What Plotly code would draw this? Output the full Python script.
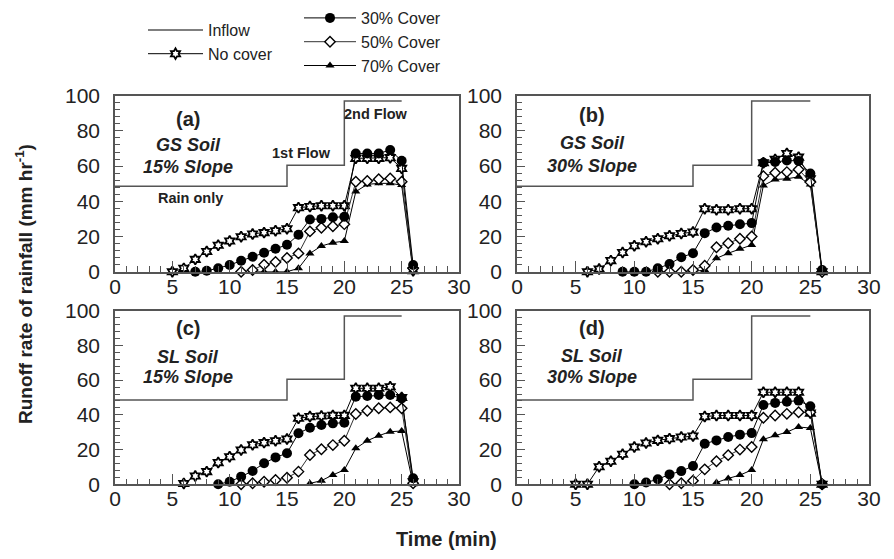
import plotly.graph_objects as go
from plotly.subplots import make_subplots

# ---------------- data ----------------
inflow_t = [0, 15, 20, 25]
inflow_y = [48.5, 60.5, 97, 97]

# panel (a) GS soil 15% slope
a_nc_t = list(range(5, 27))
a_nc = [0, 1.9, 7, 11.5, 15, 17.4, 19.9, 21.4, 22.2, 23.3, 24.4, 36.4, 37, 37.5, 37.5, 37.5, 64.4, 64.4, 64.4, 64.8, 58.7, 0.5]
a_30_t = list(range(7, 27))
a_30 = [0, 0.5, 2, 3.8, 6.2, 8.5, 10.8, 13, 15.3, 21, 29.7, 30, 30.9, 31.2, 67.2, 67.2, 67.2, 69.1, 63, 3.8]
a_50_t = list(range(11, 27))
a_50 = [0, 1, 4, 5.5, 7.8, 10.4, 22.9, 25, 25.8, 27, 51.1, 51.5, 52.5, 53, 51.1, 1.9]
a_70_t = list(range(12, 27))
a_70 = [0, 0, 0, 0, 1.9, 10.4, 14.6, 16.5, 17.4, 45.5, 49.6, 50.2, 50.2, 49.2, 0]

# panel (b) GS soil 30% slope
b_nc_t = list(range(6, 27))
b_nc = [0, 1.5, 6.3, 10.9, 14.7, 17, 18.7, 20.4, 21.7, 22.5, 35.8, 35.2, 35.2, 35.8, 35.8, 61.9, 63.8, 67.2, 65.1, 52.8, 0]
b_30_t = list(range(9, 27))
b_30 = [0, 0, 0, 1.9, 4.4, 8.2, 10.5, 21.9, 25.1, 26.1, 27, 27.6, 61.9, 62.3, 63.2, 62.9, 55.8, 1]
b_50_t = list(range(12, 27))
b_50 = [0, 0, 0, 1, 3.4, 13.9, 16.2, 18.7, 20, 54.3, 56.2, 56.6, 58.1, 50.9, 0]
b_70_t = list(range(14, 27))
b_70 = [0, 0, 1, 7.6, 10.5, 13, 15.2, 49, 52.4, 52.8, 53.9, 49.5, 0]

# panel (c) SL soil 15% slope
c_nc_t = list(range(6, 27))
c_nc = [0.5, 4.8, 7.3, 12.5, 15.9, 19.8, 22.8, 24, 25.1, 26.1, 38, 39, 39.3, 39.7, 39.7, 55.3, 55.3, 55.3, 56.2, 50, 1.5]
c_30_t = list(range(9, 27))
c_30 = [0, 1.5, 4.4, 7.7, 12.1, 15.5, 17.9, 29.4, 32.6, 34.2, 35.1, 35.5, 50.5, 50.9, 51.4, 51.4, 49.5, 3.5]
c_50_t = list(range(11, 27))
c_50 = [0, 0.6, 1.5, 2.5, 3.8, 7.3, 16.9, 20.2, 22.6, 25.1, 40.5, 42.4, 43.8, 44.3, 43.8, 0.6]
c_70_t = list(range(17, 27))
c_70 = [0.5, 2.1, 5.4, 8.3, 20.7, 25.1, 28, 30.3, 30.7, 0]

# panel (d) SL soil 30% slope
d_nc_t = list(range(5, 27))
d_nc = [0, 0, 10.1, 13.3, 17.3, 21.5, 23.8, 25.3, 26.3, 27.2, 27.8, 39, 39.6, 39.6, 39.6, 39.6, 53, 53, 53, 53, 41, 0]
d_30_t = list(range(10, 27))
d_30 = [0, 1, 2.9, 5.7, 7.6, 10.5, 23.4, 25.3, 27.2, 28.6, 29.5, 45.7, 46.9, 47.6, 48.2, 45, 0]
d_50_t = list(range(13, 27))
d_50 = [0, 0.6, 2.1, 8.6, 13.3, 16.8, 20, 21.5, 38.3, 39.6, 40.6, 41.5, 41.5, 0]
d_70_t = list(range(17, 27))
d_70 = [1, 3.4, 5.3, 8.2, 25.9, 28.2, 30.1, 33, 32.4, 0]

panel_tags = ["(a)", "(b)", "(c)", "(d)"]
panel_soil = ["GS Soil", "GS Soil", "SL Soil", "SL Soil"]
panel_slope = ["15% Slope", "30% Slope", "15% Slope", "30% Slope"]
flow_labels = ["Rain only", "1st Flow", "2nd Flow"]
x_title = "Time (min)"
y_title = "Runoff rate of rainfall (mm hr<sup>-1</sup>)"

panels = [
    (a_nc_t, a_nc, a_30_t, a_30, a_50_t, a_50, a_70_t, a_70),
    (b_nc_t, b_nc, b_30_t, b_30, b_50_t, b_50, b_70_t, b_70),
    (c_nc_t, c_nc, c_30_t, c_30, c_50_t, c_50, c_70_t, c_70),
    (d_nc_t, d_nc, d_30_t, d_30, d_50_t, d_50, d_70_t, d_70),
]

# ---------------- figure ----------------
OFF = 8                    # page body margin (all sides)
W, H = 894 - OFF, 559 - 2 * OFF


def px(x):
    return (x - OFF) / W


def py(y):
    return 1 - (y - OFF) / H


fig = make_subplots(rows=2, cols=2)

TXT = "#222222"
FRAME = "#555555"
LEG_FONT = dict(family="Liberation Sans, Arial", size=16, color=TXT)

styles = {
    "No cover": dict(symbol="hexagram", size=8, color="white", line=dict(color="black", width=1.8)),
    "30% Cover": dict(symbol="circle", size=10, color="black", line=dict(color="black", width=0)),
    "50% Cover": dict(symbol="diamond", size=8, color="white", line=dict(color="black", width=1.4)),
    "70% Cover": dict(symbol="triangle-up", size=8, color="black", line=dict(color="black", width=0)),
}
line_cols = {"No cover": "black", "30% Cover": "black", "50% Cover": "#333333", "70% Cover": "black"}
ranks = {"No cover": 2, "30% Cover": 1, "50% Cover": 2, "70% Cover": 3}

for i, p in enumerate(panels):
    r, c = i // 2 + 1, i % 2 + 1
    first = i == 0
    fig.add_trace(go.Scatter(x=inflow_t, y=inflow_y, mode="lines", name="Inflow",
                             line=dict(color="#555555", width=1.5, shape="hv"),
                             showlegend=first, legend="legend", legendrank=1), row=r, col=c)
    ts = [(p[0], p[1], "No cover", "legend"), (p[6], p[7], "70% Cover", "legend2"),
          (p[4], p[5], "50% Cover", "legend2"), (p[2], p[3], "30% Cover", "legend2")]
    for t, y, name, leg in ts:
        fig.add_trace(go.Scatter(x=t, y=y, mode="lines+markers", name=name,
                                 line=dict(color=line_cols[name], width=1),
                                 marker=styles[name], cliponaxis=False,
                                 showlegend=first, legend=leg, legendrank=ranks[name]),
                      row=r, col=c)

xdom = [[px(115), px(459)], [px(517), px(869)]]
ydom = [[py(271.7), py(95.7)], [py(484.3), py(310.7)]]

tickfont = dict(family="Liberation Sans, Arial", size=21, color=TXT)
for i in range(4):
    r, c = i // 2, i % 2
    sfx = "" if i == 0 else str(i + 1)
    fig.layout["xaxis" + sfx].update(
        domain=xdom[c], range=[0, 30], dtick=5, tick0=0, ticks="inside", ticklen=11,
        tickcolor=FRAME, tickwidth=1, showgrid=False, zeroline=False, automargin=False,
        showline=True, linecolor=FRAME, linewidth=1.5, mirror=True,
        tickfont=tickfont, ticklabelstandoff=-5,
        minor=dict(dtick=1, ticks="inside", ticklen=6, tickcolor=FRAME, tickwidth=1, showgrid=False))
    fig.layout["yaxis" + sfx].update(
        domain=ydom[r], range=[0, 100], dtick=20, tick0=0, ticks="inside", ticklen=8,
        tickcolor=FRAME, tickwidth=1, showgrid=False, zeroline=False, automargin=False,
        showline=True, linecolor=FRAME, linewidth=1.5, mirror=True,
        tickfont=tickfont, ticklabelstandoff=9,
        minor=dict(dtick=4, ticks="inside", ticklen=5, tickcolor=FRAME, tickwidth=1, showgrid=False))

# panel text
tag_y = [87, 89, 90, 90]
soil_y = [72, 73, 73.5, 74]
slope_y = [59.5, 60, 62, 62]
ann = []
for i in range(4):
    sfx = "" if i == 0 else str(i + 1)
    xr, yr = "x" + sfx, "y" + sfx
    ann.append(dict(x=6.4, y=tag_y[i], xref=xr, yref=yr, text="<b>" + panel_tags[i] + "</b>",
                    showarrow=False, font=dict(family="Liberation Sans, Arial", size=20, color=TXT)))
    ann.append(dict(x=6.4, y=soil_y[i], xref=xr, yref=yr, text="<b><i>" + panel_soil[i] + "</i></b>",
                    showarrow=False, font=dict(family="Liberation Sans, Arial", size=18, color=TXT)))
    ann.append(dict(x=6.4, y=slope_y[i], xref=xr, yref=yr, text="<b><i>" + panel_slope[i] + "</i></b>",
                    showarrow=False, font=dict(family="Liberation Sans, Arial", size=18, color=TXT)))

flow_x = [6.6, 16.3, 22.8]
flow_y = [41.9, 67.4, 89.6]
for k in range(3):
    ann.append(dict(x=flow_x[k], y=flow_y[k], xref="x", yref="y", text="<b>" + flow_labels[k] + "</b>",
                    showarrow=False, font=dict(family="Liberation Sans, Arial", size=14.5, color=TXT)))

ann.append(dict(x=px(446), y=py(539), xref="paper", yref="paper", text="<b>" + x_title + "</b>",
                xanchor="center", yanchor="middle",
                showarrow=False, font=dict(family="Liberation Sans, Arial", size=20, color=TXT)))
ann.append(dict(x=px(24), y=py(284), xref="paper", yref="paper", text="<b>" + y_title + "</b>",
                xanchor="center", yanchor="middle",
                textangle=-90, showarrow=False, font=dict(family="Liberation Sans, Arial", size=19, color=TXT)))

fig.update_layout(
    width=W, height=H, margin=dict(l=0, r=0, t=0, b=0, autoexpand=False),
    paper_bgcolor="white", plot_bgcolor="white",
    annotations=ann,
    legend=dict(x=px(143), y=py(13), xanchor="left", yanchor="top", bgcolor="rgba(0,0,0,0)",
                font=LEG_FONT, itemwidth=55, tracegroupgap=0, traceorder="normal"),
    legend2=dict(x=px(299), y=py(1), xanchor="left", yanchor="top", bgcolor="rgba(0,0,0,0)",
                 font=LEG_FONT, itemwidth=52, tracegroupgap=0, traceorder="normal"),
)

fig.write_html("out.html")
